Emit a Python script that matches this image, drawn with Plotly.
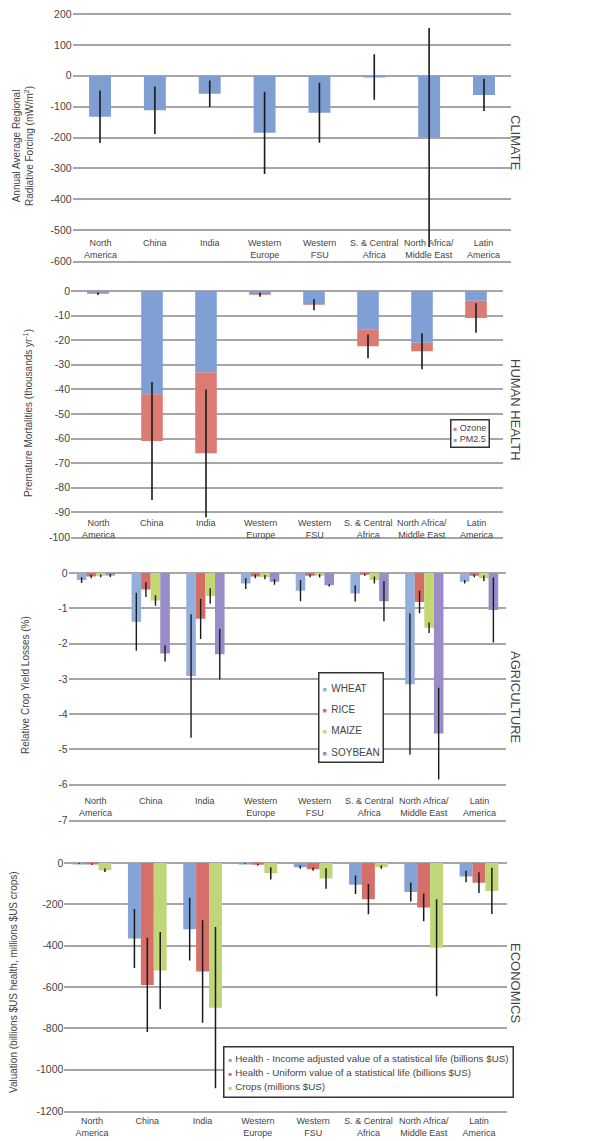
import plotly.graph_objects as go

regions = ["North America", "China", "India", "Western Europe", "Western FSU",
           "S. & Central Africa", "North Africa/Middle East", "Latin America"]
region_labels = ["North<br>America", "China", "India", "Western<br>Europe",
                 "Western<br>FSU", "S. & Central<br>Africa", "North Africa/<br>Middle East",
                 "Latin<br>America"]

# CLIMATE (mW/m2)
climate_forcing = [-133, -112, -58, -185, -120, -4, -200, -62]
climate_err = [85, 77, 43, 133, 97, 74, 355, 52]

# HUMAN HEALTH (thousands / yr)
pm25 = [-0.6, -42, -33, -1.0, -5.0, -15.5, -21, -4]
ozone = [-0.5, -19, -33, -0.5, -0.6, -7.0, -3.5, -7]
health_err = [0.5, 24, 26, 0.8, 2.2, 4.8, 7.3, 6]

# AGRICULTURE (%)
wheat = [-0.2, -1.38, -2.92, -0.3, -0.5, -0.58, -3.15, -0.25]
wheat_err = [0.08, 0.82, 1.75, 0.15, 0.3, 0.23, 2.0, 0.05]
rice = [-0.1, -0.47, -1.3, -0.1, -0.08, -0.05, -0.82, -0.08]
rice_err = [0.05, 0.21, 0.57, 0.05, 0.04, 0.03, 0.32, 0.04]
maize = [-0.08, -0.78, -0.65, -0.12, -0.08, -0.2, -1.55, -0.15]
maize_err = [0.04, 0.15, 0.22, 0.06, 0.05, 0.1, 0.15, 0.08]
soy = [-0.07, -2.28, -2.3, -0.25, -0.35, -0.8, -4.55, -1.05]
soy_err = [0.04, 0.23, 0.72, 0.08, 0.03, 0.57, 1.3, 0.92]

# ECONOMICS
income_vsl = [-3, -365, -320, -3, -20, -105, -140, -65]
income_err = [2, 143, 152, 2, 8, 45, 46, 28]
uniform_vsl = [-5, -590, -525, -8, -30, -175, -215, -95]
uniform_err = [3, 228, 248, 4, 8, 73, 67, 50]
crops = [-35, -520, -700, -50, -75, -20, -410, -135]
crops_err = [8, 186, 390, 30, 50, 8, 235, 112]

climate_ticks = [200, 100, 0, -100, -200, -300, -400, -500, -600]
health_ticks = [0, -10, -20, -30, -40, -50, -60, -70, -80, -90, -100]
agri_ticks = [0, -1, -2, -3, -4, -5, -6, -7]
econ_ticks = [0, -200, -400, -600, -800, -1000, -1200]

health_total = [p + o for p, o in zip(pm25, ozone)]

FONT = "Liberation Sans, Arial, sans-serif"
TXT = "#444444"
GRID = "#a6a6a6"
OFF = 8  # page body margin of the browser
W = 603.0 - OFF
H = 1141.0 - OFF
PAD = 1.5  # px of headroom above the top gridline


def px_x(x):
    return (x - OFF) / W


def px_y(y):
    return 1 - (y - OFF) / H


def eb(arr, thick=1.6):
    return dict(type="data", array=arr, visible=True, color="#1a1a1a", thickness=thick, width=0)


fig = go.Figure()

# Panel 1: climate
fig.add_trace(go.Bar(x=regions, y=climate_forcing, name="Radiative forcing", error_y=eb(climate_err),
                     marker=dict(color="#7f9fd3", line=dict(width=0)),
                     width=0.4, offset=-0.2, showlegend=False, xaxis="x", yaxis="y"))

# Panel 2: health (stacked via base)
health_series = [("Ozone", "#dc7a74"), ("PM2.5", "#7f9fd5")]
fig.add_trace(go.Bar(x=regions, y=ozone, base=pm25, name="Ozone",
                     marker=dict(color=health_series[0][1], line=dict(width=0)),
                     width=0.4, offset=-0.2, offsetgroup="h", showlegend=False,
                     xaxis="x2", yaxis="y2"))
fig.add_trace(go.Bar(x=regions, y=pm25, name="PM2.5",
                     marker=dict(color=health_series[1][1], line=dict(width=0)),
                     width=0.4, offset=-0.2, offsetgroup="h", showlegend=False,
                     xaxis="x2", yaxis="y2"))
fig.add_trace(go.Scatter(x=regions, y=health_total, mode="markers",
                         marker=dict(size=1, color="rgba(0,0,0,0)"),
                         error_y=eb(health_err), showlegend=False,
                         hoverinfo="skip", xaxis="x2", yaxis="y2"))

# Panel 3: agriculture
agri_series = [("WHEAT", wheat, wheat_err, "#93b0dd"),
               ("RICE", rice, rice_err, "#d56d67"),
               ("MAIZE", maize, maize_err, "#c3d872"),
               ("SOYBEAN", soy, soy_err, "#9a8cc8")]
for name, vals, err, col in agri_series:
    fig.add_trace(go.Bar(x=regions, y=vals, name=name, error_y=eb(err, 1.4),
                         marker=dict(color=col, line=dict(width=0)), showlegend=False,
                         xaxis="x3", yaxis="y3"))

# Panel 4: economics
econ_series = [
    ("Health - Income adjusted value of a statistical life (billions $US)", income_vsl, income_err, "#84a4d7"),
    ("Health - Uniform value of a statistical life (billions $US)", uniform_vsl, uniform_err, "#d66f69"),
    ("Crops (millions $US)", crops, crops_err, "#c1d679")]
for name, vals, err, col in econ_series:
    fig.add_trace(go.Bar(x=regions, y=vals, name=name, error_y=eb(err, 1.5),
                         marker=dict(color=col, line=dict(width=0)), showlegend=False,
                         xaxis="x4", yaxis="y4"))


def xdom(l, r):
    return [px_x(l), px_x(r)]


def xax(dom, anchor, labels):
    return dict(domain=dom, anchor=anchor, type="category",
                tickmode="array", tickvals=regions, ticktext=region_labels,
                showticklabels=labels,
                showgrid=False, zeroline=False, ticks="",
                showline=True, linecolor=GRID, linewidth=2,
                tickfont=dict(size=9, color=TXT, family=FONT),
                range=[-0.5, 7.5], automargin=False)


def yax(top_px, bot_px, anchor, ticks):
    lo, hi = min(ticks), max(ticks)
    per_px = (hi - lo) / (bot_px - top_px)
    rng = [lo, hi + PAD * per_px]
    dom = [px_y(bot_px), px_y(top_px - PAD)]
    return dict(domain=dom, anchor=anchor, range=rng,
                tickmode="array", tickvals=ticks, ticktext=[str(v) for v in ticks],
                showgrid=True, gridcolor=GRID, gridwidth=2,
                zeroline=True, zerolinecolor=GRID, zerolinewidth=2,
                ticks="", showline=False, automargin=False, ticklabeloverflow="allow",
                tickfont=dict(size=10.5, color=TXT, family=FONT))


fig.update_layout(
    width=int(W), height=int(H),
    margin=dict(l=0, r=0, t=0, b=0, autoexpand=False),
    paper_bgcolor="white", plot_bgcolor="white",
    font=dict(family=FONT, color=TXT),
    barmode="group", bargap=0.3, bargroupgap=0.0,
    showlegend=False,
    xaxis=xax(xdom(72.6, 511.4), "y", False),
    yaxis=yax(14, 261, "x", climate_ticks),
    xaxis2=xax(xdom(71, 503), "y2", False),
    yaxis2=yax(291, 537, "x2", health_ticks),
    xaxis3=xax(xdom(68.6, 506.4), "y3", False),
    yaxis3=yax(573, 820, "x3", agri_ticks),
    xaxis4=xax(xdom(64.4, 506.6), "y4", True),
    yaxis4=yax(863, 1111, "x4", econ_ticks),
)

ann = []
# category labels placed inside panels 1-3 (between the last two gridlines)
for xr, yr, ypos in [("x", "y", -518), ("x2", "y2", -91.3), ("x3", "y3", -6.25)]:
    for r, lab in zip(regions, region_labels):
        ann.append(dict(text=lab, x=r, y=ypos, xref=xr, yref=yr, showarrow=False,
                        xanchor="center", yanchor="top", align="center",
                        font=dict(size=9, color=TXT, family=FONT)))

ylabels = [
    ("Annual Average Regional<br>Radiative Forcing (mW/m<sup>2</sup>)", 23, 146),
    ("Premature Mortalities (thousands yr<sup>-1</sup>)", 28, 413),
    ("Relative Crop Yield Losses (%)", 25, 685),
    ("Valuation (billions $US health, millions $US crops)", 13, 982),
]
for t, x, y in ylabels:
    ann.append(dict(text=t, x=px_x(x), y=px_y(y), xref="paper", yref="paper",
                    textangle=-90, showarrow=False, xanchor="center", yanchor="middle",
                    font=dict(size=10, color=TXT, family=FONT)))
rlabels = [("CLIMATE", 143), ("HUMAN HEALTH", 410), ("AGRICULTURE", 697), ("ECONOMICS", 983)]
for t, y in rlabels:
    ann.append(dict(text=t, x=px_x(516), y=px_y(y), xref="paper", yref="paper",
                    textangle=90, showarrow=False, xanchor="center", yanchor="middle",
                    font=dict(size=13, color=TXT, family=FONT)))


def legend_box(items, x, y, base, fs, sw, pad):
    lines = ["<span style='color:%s;font-size:%spx'>■</span> <span style='font-size:%spx'>%s</span>"
             % (c, sw, fs, n) for n, c in items]
    return dict(text="<br>".join(lines), x=px_x(x), y=px_y(y), xref="paper", yref="paper",
                xanchor="left", yanchor="top", align="left", showarrow=False,
                bgcolor="white", bordercolor="#333333", borderwidth=1.5, borderpad=pad,
                font=dict(size=base, color=TXT, family=FONT))


ann.append(legend_box([(n, c) for n, _, _, c in agri_series], 318, 672, 16.5, 10, 7, 3))
ann.append(legend_box(health_series, 450, 419, 9.2, 9, 6, 2))
ann.append(legend_box([(n, c) for n, _, _, c in econ_series], 223, 1046, 11, 9.8, 6, 4))

fig.update_layout(annotations=ann)

fig.write_html("out.html")
